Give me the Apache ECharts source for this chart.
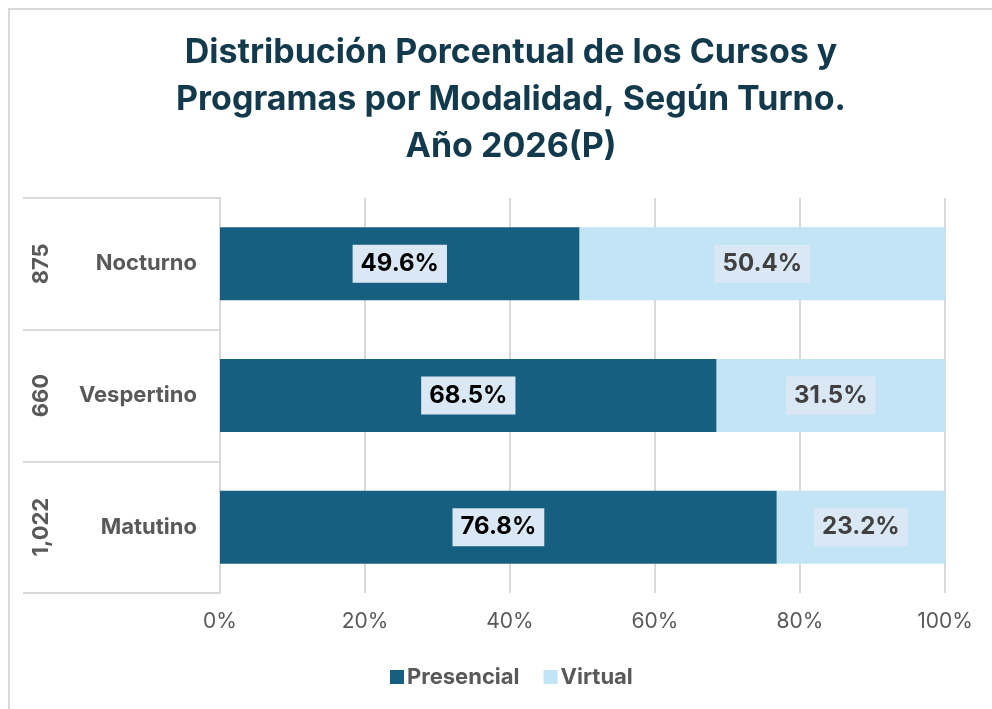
<!DOCTYPE html>
<html>
<head>
<meta charset="utf-8">
<script src="https://cdn.jsdelivr.net/npm/echarts@6/dist/echarts.min.js"></script>
<style>
    html, body { margin: 0; padding: 0; background: #fff; }
    #frame {
        position: absolute; left: 8px; top: 8px; width: 1000px; height: 720px;
        border-left: 2px solid #d9d9d9; border-top: 2px solid #d9d9d9;
    }
    #chart { position: absolute; left: 0; top: 0; width: 992px; height: 709px; }
</style>
</head>
<body>
<div id="frame"></div>
<div id="chart"></div>
<script>
    // bottom to top, same order as the picture
    const turnos = ['Matutino', 'Vespertino', 'Nocturno'];
    const totales = ['1,022', '660', '875'];
    const presencial = [76.8, 68.5, 49.6];
    const virtual = [23.2, 31.5, 50.4];
    const xTicks = [0, 20, 40, 60, 80, 100];

    const colorPresencial = '#175f80';
    const colorVirtual = '#c2e4f4';
    const axisGray = '#595959';
    const lineGray = '#d9d9d9';
    const font = 'Inter, "Liberation Sans", sans-serif';

    function labelStyle(textColor) {
        return {
            show: true,
            position: 'inside',
            formatter: p => p.value.toFixed(1) + '%',
            color: textColor,
            fontFamily: font,
            fontSize: 24,
            fontWeight: 'bold',
            backgroundColor: '#dae8f5',
            padding: [8, 8, 6, 8]
        };
    }

    let chart = echarts.init(document.getElementById('chart'));
    chart.setOption({
        animation: false,
        title: {
            text: 'Distribución Porcentual de los Cursos y\nProgramas por Modalidad, Según Turno.\nAño 2026(P)',
            left: 506,
            textAlign: 'center',
            top: 24,
            textStyle: {
                fontFamily: font,
                fontSize: 34,
                fontWeight: 'bold',
                color: '#123a4c',
                lineHeight: 47
            }
        },
        legend: {
            left: 385,
            top: 661,
            itemWidth: 14,
            itemHeight: 14,
            itemGap: 24,
            icon: 'rect',
            textStyle: {
                fontFamily: font,
                fontSize: 22,
                fontWeight: 'bold',
                color: axisGray,
                padding: [0, 0, 0, -2]
            },
            data: ['Presencial', 'Virtual']
        },
        grid: {
            left: 220,
            right: 47,
            top: 198,
            bottom: 116
        },
        xAxis: {
            type: 'value',
            min: 0,
            max: 100,
            interval: 20,
            axisLine: { show: false },
            axisTick: { show: false },
            splitLine: { lineStyle: { color: lineGray, width: 2 } },
            axisLabel: {
                formatter: v => xTicks.includes(v) ? v + '%' : '',
                fontFamily: font,
                fontSize: 21,
                color: axisGray,
                margin: 18
            }
        },
        yAxis: [
            {
                type: 'category',
                data: turnos,
                axisLine: { show: true, lineStyle: { color: lineGray, width: 2 } },
                axisTick: { show: true, length: 197, lineStyle: { color: lineGray, width: 2 } },
                axisLabel: {
                    fontFamily: font,
                    fontSize: 22,
                    fontWeight: 'bold',
                    color: axisGray,
                    margin: 23
                }
            },
            {
                type: 'category',
                data: totales,
                position: 'left',
                axisLine: { show: false },
                axisTick: { show: false },
                axisLabel: {
                    rotate: 90,
                    fontFamily: font,
                    fontSize: 22,
                    fontWeight: 'bold',
                    color: axisGray,
                    margin: 168
                }
            }
        ],
        series: [
            {
                name: 'Presencial',
                type: 'bar',
                stack: 'total',
                barWidth: 73,
                itemStyle: { color: colorPresencial },
                label: labelStyle('#000000'),
                data: presencial
            },
            {
                name: 'Virtual',
                type: 'bar',
                stack: 'total',
                barWidth: 73,
                itemStyle: { color: colorVirtual },
                label: labelStyle('#404040'),
                data: virtual
            }
        ]
    });
</script>
</body>
</html>
